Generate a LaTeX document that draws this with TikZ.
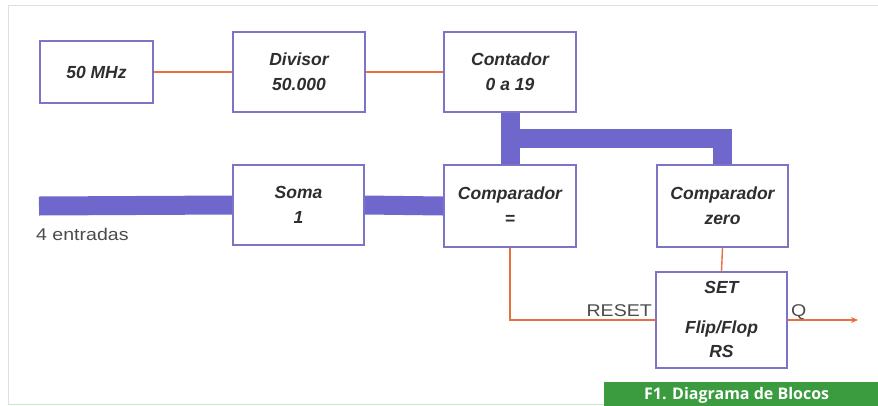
\documentclass[tikz,border=0pt]{standalone}
\usepackage{fontspec}
\setmainfont{Liberation Sans}
\newfontfamily\widefont[FakeStretch=1.15]{Liberation Sans}
\newfontfamily\capfont{Open Sans}
\usetikzlibrary{arrows.meta,calc}
\definecolor{boxc}{HTML}{7C74C6}
\definecolor{busc}{HTML}{6F67CC}
\definecolor{wirec}{HTML}{E8703E}
\definecolor{txt}{HTML}{2E2E2E}
\definecolor{capg}{HTML}{3B9B3F}
\begin{document}
\begin{tikzpicture}[x=1pt,y=-1pt,
  blk/.style={draw=boxc,line width=2.2pt,fill=white,align=center,inner sep=0pt,
    font=\bfseries\itshape\fontsize{17.5}{25}\selectfont,text=txt},
  intxt/.style={inner sep=0pt,font=\bfseries\itshape\fontsize{17.5}{25}\selectfont,text=txt},
  bus/.style={draw=busc,line width=19pt,line join=miter},
  wire/.style={draw=wirec,line width=1.4pt},
  lbl/.style={font=\widefont\fontsize{17}{20}\selectfont,text=black!70,inner sep=0pt}]
\useasboundingbox (0,0) rectangle (878,405);
\fill[white] (0,0) rectangle (878,405);
% frame
\draw[gray!25,line width=0.8pt] (878,5) -- (8,5) -- (8,404);
\draw[green!50!gray!30,line width=0.8pt] (8,404) -- (604,404);
% blocks
\node[blk,minimum width=113pt,minimum height=62pt] (mhz) at (96.5,72) {50 MHz};
\node[blk,minimum width=132pt,minimum height=80pt] (div) at (299,72) {Divisor\\50.000};
\node[blk,minimum width=132pt,minimum height=80pt] (cont) at (510,72) {Contador\\0 a 19};
\node[blk,minimum width=131pt,minimum height=80pt] (soma) at (298.5,205) {Soma\\1};
\node[blk,minimum width=132pt,minimum height=82pt] (cmpeq) at (510,206) {Comparador\\=};
\node[blk,minimum width=131pt,minimum height=82pt] (cmpz) at (722.5,206) {Comparador\\zero};
\node[blk,minimum width=131pt,minimum height=96pt] (ff) at (721.5,320) {};
\node[intxt,anchor=base] (ffs) at (721.5,293) {SET};
\node[intxt,anchor=base] (ffa) at (721.5,333) {Flip/Flop};
\node[intxt,anchor=base] (ffb) at (721.5,357) {RS};
% buses
\coordinate (bin) at (39,206);
\coordinate (bj) at (511,138);
\draw[bus] (bin) -- (soma.west);
\draw[bus] (soma.east) -- (cmpeq.west);
\draw[bus] (cont.south) -- (cmpeq.north);
\draw[bus] (bj) -| (cmpz.north);
% wires
\draw[wire] (mhz.east) -- (div.west);
\draw[wire] (div.east) -- (cont.west);
\draw[wire] (cmpeq.south) |- (ff.west);
\draw[wire] (cmpz.south) -- (ff.north);
\coordinate (qe) at (858,320);
\draw[wire,-{Stealth[length=7pt,width=6pt]}] (ff.east) -- (qe);
% labels
\node[lbl,anchor=base west] (ent) at (36,240) {4 entradas};
\node[lbl,anchor=base east] (rst) at (652,316) {RESET};
\node[lbl,anchor=base west] (q) at (791,316) {Q};
% caption
\fill[capg] (604,382) rectangle (878,410);
\node[anchor=base west,inner sep=0pt,text=white,font=\capfont\bfseries\fontsize{16}{20}\selectfont] (cap) at (644,399) {F1. Diagrama de Blocos};
\end{tikzpicture}
\end{document}
